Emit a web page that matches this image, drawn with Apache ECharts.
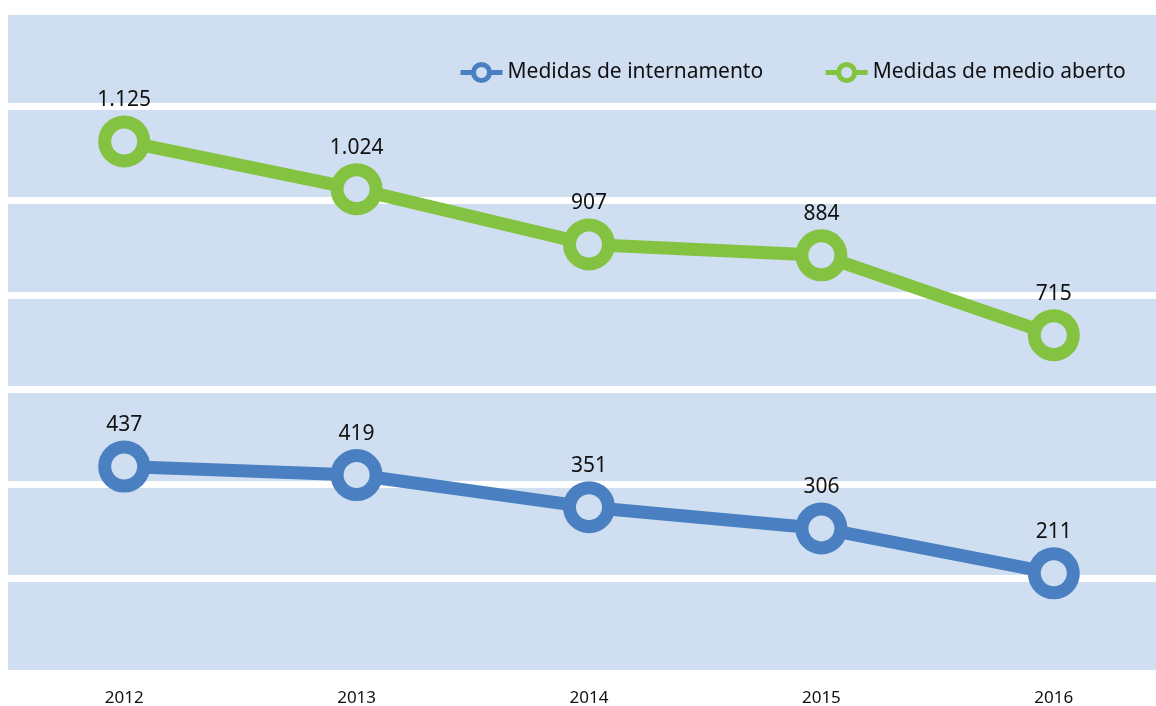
<!DOCTYPE html>
<html><head><meta charset="utf-8">
<script src="https://cdn.jsdelivr.net/npm/echarts@6/dist/echarts.min.js"></script>
<style>html,body{margin:0;padding:0;background:#fff}#c{width:1156px;height:706px}</style>
</head><body><div id="c"></div>
<script>
var years = ['2012', '2013', '2014', '2015', '2016'];
var internamento = [437, 419, 351, 306, 211];
var medioAberto = [1125, 1024, 907, 884, 715];
var seriesNames = ['Medidas de internamento', 'Medidas de medio aberto'];

var BG = '#cfdef0';
var BLUE = '#4a80c1';
var GREEN = '#83c341';
var FONT = 'Noto Sans';

function fmt(v) {
  var s = String(v);
  return s.replace(/\B(?=(\d{3})+(?!\d))/g, '.');
}

function mkSeries(name, data, color) {
  return {
    name: name,
    type: 'line',
    data: data,
    symbol: 'circle',
    symbolSize: 39,
    lineStyle: { color: color, width: 13 },
    itemStyle: { color: BG, borderColor: color, borderWidth: 13 },
    label: {
      show: true, position: 'top', distance: 5,
      color: '#111', fontFamily: FONT, fontSize: 21,
      formatter: function (p) { return fmt(p.value); }
    },
    emphasis: { disabled: true }
  };
}

var chart = echarts.init(document.getElementById('c'));
chart.setOption({
  animation: false,
  backgroundColor: '#fff',
  grid: {
    left: 8, right: -14, top: 11.5, bottom: 33,
    outerBoundsMode: 'none',
    show: true, backgroundColor: BG, borderWidth: 0, containLabel: false
  },
  legend: {
    data: seriesNames,
    left: 458, top: 62, padding: 0,
    itemWidth: 42, itemHeight: 20, itemGap: 60,
    textStyle: { fontFamily: FONT, fontSize: 21, color: '#111' },
    lineStyle: { width: 5 },
    itemStyle: { borderWidth: 5 }
  },
  xAxis: {
    type: 'category', data: years, boundaryGap: true,
    axisLine: { show: false }, axisTick: { show: false },
    axisLabel: { fontFamily: FONT, fontSize: 17, color: '#111', margin: 17 }
  },
  yAxis: {
    type: 'value', min: 0, max: 1400, interval: 200,
    axisLine: { show: false }, axisTick: { show: false },
    axisLabel: { show: false },
    splitLine: { show: true, lineStyle: { color: '#fff', width: 7 } }
  },
  series: [
    mkSeries(seriesNames[0], internamento, BLUE),
    mkSeries(seriesNames[1], medioAberto, GREEN)
  ]
});
</script></body></html>
